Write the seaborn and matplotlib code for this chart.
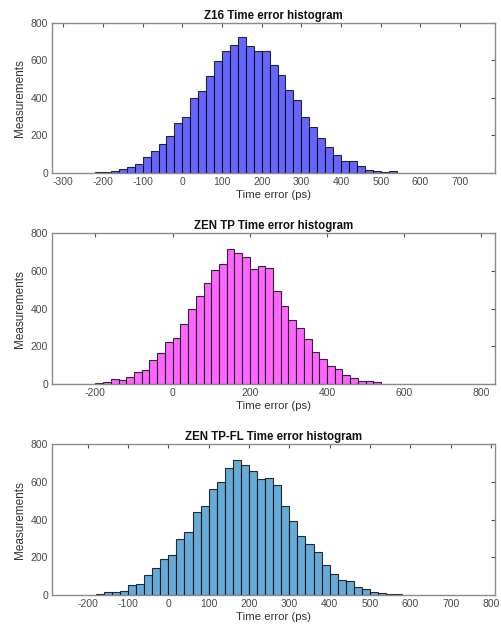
import numpy as np
import pandas as pd
import seaborn as sns
import matplotlib
matplotlib.use("Agg")
import matplotlib.pyplot as plt

# bin width in ps, first left edge of each histogram
BIN_WIDTH = 20

z16_start = -220
z16_counts = [7, 3, 8, 23, 32, 50, 83, 119, 156, 196,
              269, 298, 402, 435, 516, 595, 648, 685, 727, 675,
              651, 651, 578, 520, 441, 387, 300, 245, 184, 136,
              94, 65, 65, 38, 17, 13, 5, 8]

tp_start = -200
tp_counts = [5, 11, 25, 21, 37, 63, 74, 130, 167, 225,
             246, 320, 398, 466, 535, 605, 637, 718, 697, 674,
             612, 628, 617, 494, 412, 342, 295, 241, 172, 132,
             95, 79, 46, 33, 18, 14, 9]

tpfl_start = -180
tpfl_counts = [5, 18, 18, 23, 51, 58, 104, 143, 189, 210,
               298, 337, 441, 470, 565, 602, 676, 718, 688, 657,
               615, 623, 583, 470, 395, 316, 270, 226, 157, 111,
               78, 74, 41, 30, 18, 9, 5, 5]

titles = ["Z16 Time error histogram", "ZEN TP Time error histogram",
          "ZEN TP-FL Time error histogram"]
xlims = [(-328, 788), (-312, 835), (-288, 810)]
xticks = [np.arange(-300, 701, 100), np.arange(-200, 801, 200), np.arange(-200, 801, 100)]
colors = ["#6666ff", "#ff66ff", "#66aad7"]

sns.set_style("white")
plt.rcParams['font.family'] = ['Liberation Sans', 'DejaVu Sans']
plt.rcParams['font.size'] = 7.5
plt.rcParams['axes.unicode_minus'] = False

fig = plt.figure(figsize=(5.02, 6.29), dpi=100)
positions = [[0.104, 0.725, 0.882, 0.2385],
             [0.104, 0.3895, 0.882, 0.2396],
             [0.104, 0.054, 0.882, 0.2396]]

data = [(z16_start, z16_counts), (tp_start, tp_counts), (tpfl_start, tpfl_counts)]

for i, (start, counts) in enumerate(data):
    ax = fig.add_axes(positions[i])
    edges = [start + BIN_WIDTH * k for k in range(len(counts) + 1)]
    df = pd.DataFrame({"center": [e + BIN_WIDTH / 2 for e in edges[:-1]], "count": counts})
    sns.histplot(data=df, x="center", weights="count", bins=edges, ax=ax,
                 color=colors[i], alpha=1.0, edgecolor=(0, 0, 0, 0.8), linewidth=0.8)
    ax.set_xlim(*xlims[i])
    ax.set_ylim(0, 800)
    ax.set_xticks(xticks[i])
    ax.set_yticks(np.arange(0, 801, 200))
    ax.set_title(titles[i], fontweight='bold', fontsize=8.3, color='#111111', pad=3)
    ax.set_xlabel("Time error (ps)", fontsize=8.2, color='#333333', labelpad=2)
    ax.set_ylabel("Measurements", fontsize=8.5, color='#333333', labelpad=3)
    for sp in ax.spines.values():
        sp.set_visible(True)
        sp.set_color('#8a8a8a')
        sp.set_linewidth(1.0)
    ax.tick_params(direction='in', length=3, width=0.8, color='#555555',
                   top=True, right=True, labelsize=7.5, labelcolor='#4a4a4a', pad=3)

fig.savefig("out.png", dpi=100)
